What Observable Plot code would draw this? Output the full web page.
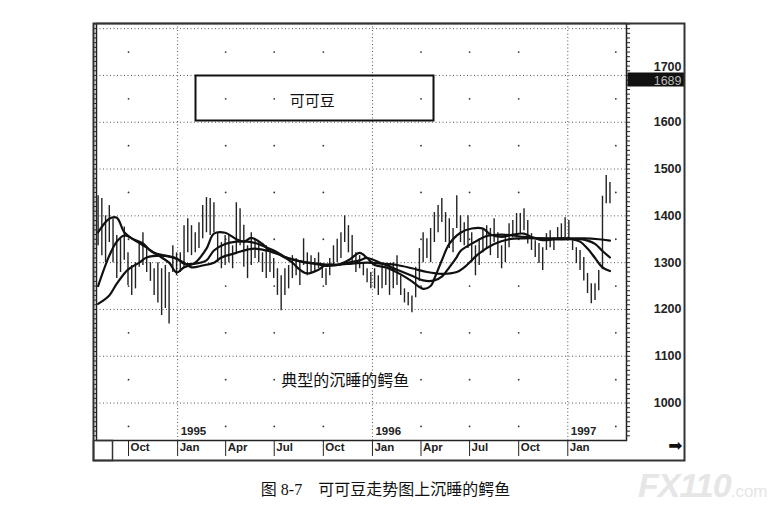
<!DOCTYPE html>
<html><head><meta charset="utf-8">
<script src="https://cdn.jsdelivr.net/npm/d3@7"></script>
<script src="https://cdn.jsdelivr.net/npm/@observablehq/plot@0.6"></script>
<style>
body{margin:0;background:#fff;width:771px;height:507px;overflow:hidden;position:relative}
#cap{position:absolute;top:478px;left:0;width:771px;text-align:center;font-size:16px;font-family:"Liberation Serif","Noto Sans CJK SC",serif;color:#111;line-height:24px}
#wm{position:absolute;left:638px;top:466px;font:bold italic 34px "Liberation Sans",Arial;color:#e6e6e6;letter-spacing:-1px}
#wm span{font-size:17px;font-style:normal;font-weight:normal;letter-spacing:0}
</style></head><body>
<div id="chart"></div>
<div id="cap">图 8-7&nbsp;&nbsp;&nbsp;&nbsp;可可豆走势图上沉睡的鳄鱼</div>
<div id="wm">FX110<span>.com</span></div>
<script>
// weekly bars starting 1994-08-05
const highs = [1443,1437,1400,1422,1394,1358,1351,1376,1321,1294,1300,1345,1364,1330,1300,1287,1300,1287,1294,1279,
1336,1321,1321,1379,1394,1379,1364,1385,1422,1439,1437,1428,1364,1343,1358,1358,1336,1428,1415,1380,
1336,1364,1351,1343,1321,1336,1321,1309,1287,1272,1287,1294,1315,1309,1300,1351,1321,1315,1309,1321,
1294,1287,1309,1336,1350,1364,1400,1379,1358,1321,1315,1300,1287,1279,1287,1272,1294,1287,1294,1300,
1315,1272,1244,1236,1229,1290,1330,1364,1351,1373,1407,1422,1437,1407,1394,1373,1443,1400,1385,1400,
1364,1336,1351,1373,1379,1373,1394,1364,1336,1358,1383,1390,1405,1405,1415,1390,1362,1347,1341,1332,
1362,1368,1353,1375,1383,1396,1390,1347,1332,1326,1311,1277,1255,1255,1283,1442,1486,1471];
const lows = [1336,1315,1300,1343,1300,1266,1279,1305,1251,1230,1244,1290,1294,1279,1260,1230,1214,1187,1202,1169,
1279,1272,1279,1287,1321,1315,1321,1330,1351,1364,1358,1364,1300,1287,1294,1300,1287,1321,1336,1290,
1266,1294,1309,1300,1279,1266,1279,1266,1230,1197,1230,1244,1266,1272,1251,1294,1272,1279,1279,1287,
1266,1251,1272,1294,1300,1309,1343,1321,1300,1279,1287,1272,1257,1244,1244,1230,1244,1251,1230,1244,
1251,1230,1214,1208,1193,1225,1260,1300,1309,1300,1343,1364,1386,1343,1330,1321,1373,1343,1336,1330,
1300,1272,1294,1321,1330,1315,1343,1309,1287,1300,1332,1353,1353,1362,1368,1340,1326,1311,1298,1283,
1326,1332,1326,1347,1347,1353,1347,1326,1298,1283,1261,1234,1212,1219,1240,1285,1426,1426];
// alligator lines: [week index, price]
const lips = [[0,1365],[3,1394],[5,1396],[7,1365],[9,1352],[12,1341],[14,1326],[17,1311],[19,1300],[21,1279],[23,1290],[26,1300],[29,1330],[31,1362],[34,1364],[37,1350],[39,1345],[41,1353],[44,1340],[46,1325],[49,1315],[52,1300],[54,1285],[56,1277],[59,1285],[61,1295],[64,1295],[67,1305],[70,1321],[72,1310],[74,1295],[77,1290],[81,1275],[84,1260],[87,1244],[89,1250],[90,1266],[92,1305],[94,1340],[97,1364],[100,1373],[103,1373],[105,1360],[108,1355],[111,1360],[114,1362],[116,1355],[119,1348],[122,1350],[124,1352],[127,1350],[129,1345],[131,1330],[133,1310],[135,1290],[137,1282]];
const teeth = [[0,1250],[3,1315],[5,1345],[7,1358],[10,1347],[13,1332],[15,1321],[18,1315],[21,1309],[23,1298],[26,1298],[29,1305],[31,1326],[34,1340],[37,1345],[40,1345],[42,1342],[45,1333],[48,1322],[50,1312],[53,1305],[56,1300],[59,1296],[61,1293],[64,1295],[67,1300],[70,1305],[72,1310],[76,1298],[80,1285],[84,1272],[87,1262],[90,1262],[92,1270],[94,1290],[96,1312],[97,1325],[101,1345],[104,1357],[108,1360],[111,1358],[114,1355],[118,1352],[122,1350],[126,1350],[129,1350],[131,1347],[133,1340],[135,1325],[137,1311]];
const jaw = [[0,1212],[3,1230],[5,1255],[8,1285],[11,1300],[13,1311],[17,1315],[20,1311],[23,1300],[25,1290],[28,1294],[31,1300],[33,1311],[37,1321],[40,1328],[42,1330],[45,1326],[48,1320],[50,1312],[53,1305],[56,1300],[59,1298],[61,1296],[64,1296],[68,1298],[72,1300],[76,1298],[80,1295],[84,1288],[88,1280],[92,1276],[96,1280],[98,1290],[102,1320],[106,1340],[110,1350],[114,1352],[119,1352],[124,1352],[130,1352],[134,1350],[137,1347]];
const quarterTicks = ["1994-10-01","1995-01-01","1995-04-01","1995-07-01","1995-10-01","1996-01-01","1996-04-01","1996-07-01","1996-10-01","1997-01-01"];
const monthLabels = ["Oct","Jan","Apr","Jul","Oct","Jan","Apr","Jul","Oct","Jan"];
const yearTicks = ["1995-01-01","1996-01-01","1997-01-01"];
const yearLabels = ["1995","1996","1997"];
const dotQuarters = ["1994-10-01","1995-04-01","1995-07-01","1995-10-01","1996-04-01","1996-07-01","1996-10-01","1997-04-01"];
const priceLabels = [1000,1100,1200,1300,1400,1500,1600];
const topLabel = 1700;
const lastPrice = 1689;

const pd = s => { const [y,m,d] = s.split("-").map(Number); return new Date(y, m-1, d); };
const start = new Date(1994,7,5);
const wk = i => new Date(start.getTime() + i*7*864e5);
const bars = highs.map((h,i)=>({date: wk(i), high: h, low: lows[i]}));
const mk = (arr,name) => arr.map(([i,v])=>({date: wk(i), value: v, name}));
const lineData = [...mk(jaw,"jaw"), ...mk(teeth,"teeth"), ...mk(lips,"lips")];
const qDates = quarterTicks.map(pd);
const yDates = yearTicks.map(pd);
const grid = d3.range(1000, 1801, 100);
const dots = [];
for (const q of dotQuarters) for (const v of d3.range(950, 1800, 100)) dots.push({date: pd(q), v});

const chart = Plot.plot({
  width: 771, height: 470,
  marginLeft: 96, marginRight: 145, marginTop: 23, marginBottom: 30,
  x: {type: "time", domain: [new Date(1994,7,2), new Date(1997,3,21)]},
  y: {domain: [920, 1811]},
  style: {fontFamily: "'Liberation Sans', Arial, sans-serif", background: "white", color: "#222"},
  marks: [
    Plot.ruleY(grid, {y: d=>d, stroke: "#444", strokeDasharray: "1,2.5", strokeWidth: 0.9}),
    Plot.ruleX(yDates, {x: d=>d, stroke: "#444", strokeDasharray: "1,2.5", strokeWidth: 0.9}),
    Plot.dot(dots, {x: "date", y: "v", r: 0.9, fill: "#333", stroke: null}),
    Plot.ruleX(bars, {x: "date", y1: "low", y2: "high", stroke: "#222", strokeWidth: 1.4}),
    Plot.line(lineData, {x: "date", y: "value", z: "name", stroke: "#111", strokeWidth: 2.2, curve: "catmull-rom"}),
    Plot.axisY({anchor: "left", ticks: d3.range(930, 1811, 10), tickSize: 3, tickFormat: () => "", stroke: "#222"}),
    Plot.axisY({anchor: "right", ticks: d3.range(930, 1811, 10), tickSize: 3, tickFormat: () => "", stroke: "#222"}),
    Plot.axisY({anchor: "right", ticks: priceLabels, tickSize: 0, tickPadding: 55, tickFormat: d => String(d), textAnchor: "end", fontSize: 12.5, fontWeight: "bold", fill: "#222"}),
    Plot.text([topLabel], {y: d=>d, text: d=>String(d), frameAnchor: "right", dx: 55, dy: -4, lineAnchor: "bottom", textAnchor: "end", fontSize: 12.5, fontWeight: "bold", fill: "#222"}),
    Plot.frame({insetLeft: 531, insetRight: -58, insetTop: 49, insetBottom: 354, fill: "#111", stroke: null}),
    Plot.text([lastPrice], {y: d=>d, text: d=>String(d), frameAnchor: "right", dx: 55, textAnchor: "end", fill: "#bbb", fontSize: 12.5}),
    Plot.axisX({ticks: qDates, tickSize: 16, tickFormat: () => "", stroke: "#222"}),
    Plot.text(qDates, {x: d=>d, text: (d,i)=>monthLabels[i], frameAnchor: "bottom", dy: 10, dx: 2, textAnchor: "start", fontSize: 11.5, fontWeight: "bold", fill: "#222"}),
    Plot.text(yDates, {x: d=>d, text: (d,i)=>yearLabels[i], frameAnchor: "bottom", dy: -6, dx: 3, textAnchor: "start", fontSize: 11.5, fontWeight: "bold", fill: "#222"}),
    Plot.text(["➡"], {frameAnchor: "bottom-right", dx: 56, dy: 10, textAnchor: "end", fontSize: 17, fill: "#111", fontFamily: "DejaVu Sans"}),
    Plot.frame({insetLeft: 99, insetRight: 193, insetTop: 52, insetBottom: 320, stroke: "#111", strokeWidth: 2}),
    Plot.text(["可可豆"], {x: ()=>new Date(1995,8,10), y: ()=>1646, text: d=>d, fontSize: 15, fontFamily: "Noto Sans CJK SC", fill: "#111"}),
    Plot.text(["典型的沉睡的鳄鱼"], {x: ()=>new Date(1995,10,11), y: ()=>1048, text: d=>d, fontSize: 16, fontFamily: "Noto Sans CJK SC", fill: "#111"}),
    Plot.frame({stroke: "#222", strokeWidth: 1.5}),
    Plot.frame({insetLeft: -3, insetRight: 514, insetTop: 417, insetBottom: -20, stroke: "#333", strokeWidth: 1.5}),
    Plot.frame({insetLeft: -3, insetRight: -58, insetBottom: -20, stroke: "#333", strokeWidth: 2})
  ]
});
document.getElementById("chart").appendChild(chart);
</script>
</body></html>
